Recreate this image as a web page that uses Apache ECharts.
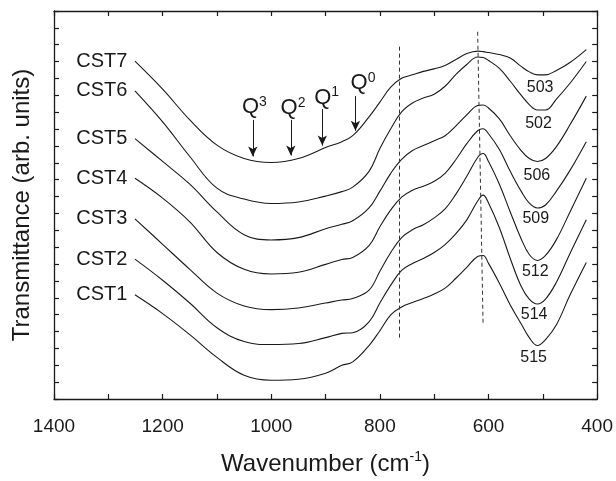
<!DOCTYPE html>
<html lang="en">
<head>
<meta charset="UTF-8">
<title>FTIR CST spectra</title>
<style>html,body{margin:0;padding:0;background:#fff;}</style>
</head>
<body>
<div id="main" style="width:616px;height:481px;"></div>
<script src="https://cdn.jsdelivr.net/npm/echarts@6/dist/echarts.min.js"></script>
<script>
// shared wavenumber grid (cm-1)
var wavenumbers = [1251, 1200, 1150, 1100, 1050, 1000, 950, 900, 870, 850, 820, 800,
  780, 760, 740, 720, 700, 680, 660, 640, 620, 610, 600, 580,
  560, 540, 525, 510, 495, 475, 450, 420];

// transmittance, arb. units (curves already offset as in the figure)
var cst1 = [105.3, 86.3, 65, 42, 24, 19, 20, 26, 34, 37.5, 54, 69, 85, 93, 97.5, 101.5, 106, 112, 122, 133, 144, 145, 137, 117, 95, 76, 62, 54, 60, 75, 105, 138];
var cst2 = [141.3, 120, 97, 72, 58, 55, 56, 62, 66.3, 67, 78, 97, 115, 130, 137, 142, 148, 156, 167, 181, 200, 206, 198, 173, 142, 114, 101, 96, 101, 118, 147, 181];
var cst3 = [182, 156.3, 131, 107, 94, 90.3, 92, 97, 100, 101.5, 110, 129, 148, 163, 171, 176, 183, 192, 207, 225, 244, 248, 240, 217, 189, 162, 146, 140, 145, 161, 189, 223];
var cst4 = [223, 203, 179, 148, 131, 126.3, 128, 136, 141, 143, 155, 174, 191, 204, 211, 215, 220, 228, 242, 258, 271, 273, 268, 252, 230, 210, 198, 193, 196, 210, 231, 260];
var cst5 = [263, 240, 217, 189, 166, 160.7, 163, 172, 176.5, 180, 193, 210, 228, 242, 251, 256, 261, 266, 276, 287, 296.5, 297, 294, 283, 266, 251, 243, 240, 243, 255, 277, 306];
var cst6 = [311.3, 280, 245, 213, 202, 197.5, 199, 205, 209.5, 214, 230, 253, 273, 290, 299, 304, 308, 316, 328, 338, 345.5, 345, 342, 334, 321, 307, 297.5, 292, 292, 303, 319, 341];
var cst7 = [341.3, 313, 282, 256.5, 243, 239, 243, 254, 260, 266, 285, 300, 315, 324, 327.5, 331, 333.5, 337, 343, 349, 351.5, 351, 350, 348, 344.5, 336, 330.5, 327.5, 327.5, 332, 340, 353];

var sampleNames = ['CST1', 'CST2', 'CST3', 'CST4', 'CST5', 'CST6', 'CST7'];
var bandLabels = ['515', '514', '512', '509', '506', '502', '503'];
// where the band labels sit (wavenumber, arb. units)
var bandLabelAt = [[517, 42], [516, 85], [514, 129], [513, 182], [511, 226], [508, 278], [505, 315]];

// Qn arrows
var qSup = ['3', '2', '1', '0'];
var qArrowW = [1034, 964, 906, 845];
var qArrowFrom = [282, 282, 293, 306];
var qArrowTo = [245, 246, 256, 271];
var qLabelAt = [[1031, 295], [960, 294], [898, 304.5], [831, 319]];

// dashed guide lines
var guideLines = [[[764, 356], [764, 61]], [[620, 371], [610, 75]]];

var FONT = 'Liberation Sans, Arial, Helvetica, sans-serif';
var INK = '#1a1a1a';

var myChart = echarts.init(document.getElementById('main'));

var spectra = [cst1, cst2, cst3, cst4, cst5, cst6, cst7];
var series = spectra.map(function (vals, i) {
  return {
    name: sampleNames[i],
    type: 'line',
    smooth: 0.4,
    symbol: 'none',
    silent: true,
    data: wavenumbers.map(function (w, k) { return [w, vals[k]]; }),
    lineStyle: { color: INK, width: 1.1 },
    markPoint: {
      symbol: 'rect',
      symbolSize: 1,
      itemStyle: { color: 'rgba(0,0,0,0)' },
      silent: true,
      data: [
        {
          coord: [wavenumbers[0], vals[0]],
          label: { show: true, position: 'left', distance: 7, formatter: sampleNames[i],
            fontSize: 20, color: INK, fontFamily: FONT }
        },
        {
          coord: bandLabelAt[i],
          label: { show: true, position: 'inside', formatter: bandLabels[i],
            fontSize: 16, color: INK, fontFamily: FONT }
        }
      ]
    }
  };
});

// arrows + Q labels on top curve
series[6].markLine = {
  silent: true,
  symbol: ['none', 'arrow'],
  symbolSize: [7, 10],
  label: { show: false },
  lineStyle: { color: INK, width: 1, type: 'solid' },
  data: qArrowW.map(function (w, i) {
    return [{ coord: [w, qArrowFrom[i]] }, { coord: [w, qArrowTo[i]] }];
  })
};
qSup.forEach(function (s, i) {
  series[6].markPoint.data.push({
    coord: qLabelAt[i],
    label: {
      show: true, position: 'inside',
      formatter: '{q|Q}{s|' + s + '}',
      rich: {
        q: { fontSize: 22, lineHeight: 24, color: INK, fontFamily: FONT },
        s: { fontSize: 14, lineHeight: 15, verticalAlign: 'top', color: INK, fontFamily: FONT }
      }
    }
  });
});

// dashed guides
series[0].markLine = {
  silent: true,
  symbol: ['none', 'none'],
  label: { show: false },
  lineStyle: { color: '#333', width: 1, type: [4, 3] },
  data: guideLines.map(function (l) {
    return [{ coord: l[0] }, { coord: l[1] }];
  })
};

var tickStyle = { color: INK, width: 1.2 };

option = {
  animation: false,
  backgroundColor: '#fff',
  grid: { left: 54, right: 17, top: 11, bottom: 78 },
  xAxis: [
    {
      type: 'value', position: 'bottom', inverse: true,
      min: 400, max: 1400, interval: 200,
      axisLine: { show: true, onZero: false, lineStyle: { color: INK, width: 1.3 } },
      axisTick: { show: true, inside: true, length: 5, lineStyle: tickStyle },
      minorTick: { show: true, splitNumber: 2, length: 5, lineStyle: tickStyle },
      splitLine: { show: false },
      axisLabel: { fontSize: 19, color: INK, margin: 18, fontFamily: FONT,
        formatter: function (v) { return String(v); } },
      name: '{a|Wavenumber (cm}{s|-1}{a|)}',
      nameLocation: 'middle',
      nameGap: 51,
      nameTextStyle: {
        rich: {
          a: { fontSize: 24, lineHeight: 28, color: INK, fontFamily: FONT },
          s: { fontSize: 14, lineHeight: 15, verticalAlign: 'top', color: INK, fontFamily: FONT }
        }
      }
    },
    {
      type: 'value', position: 'top', inverse: true,
      min: 400, max: 1400, interval: 100,
      axisLine: { show: true, onZero: false, lineStyle: { color: INK, width: 1.3 } },
      axisTick: { show: true, inside: true, length: 5, lineStyle: tickStyle },
      axisLabel: { show: false },
      splitLine: { show: false }
    }
  ],
  yAxis: [
    {
      type: 'value', position: 'left',
      min: 0, max: 392, interval: 392 / 23,
      axisLine: { show: true, onZero: false, lineStyle: { color: INK, width: 1.3 } },
      axisTick: { show: true, inside: true, length: 5, lineStyle: tickStyle },
      axisLabel: { show: false },
      splitLine: { show: false },
      name: 'Transmittance (arb. units)',
      nameLocation: 'middle',
      nameGap: 20,
      nameTextStyle: { fontSize: 24, color: INK, fontFamily: FONT }
    },
    {
      type: 'value', position: 'right',
      min: 0, max: 392, interval: 392 / 23,
      axisLine: { show: true, onZero: false, lineStyle: { color: INK, width: 1.3 } },
      axisTick: { show: true, inside: true, length: 5, lineStyle: tickStyle },
      axisLabel: { show: false },
      splitLine: { show: false }
    }
  ],
  series: series
};

myChart.setOption(option);
</script>
</body>
</html>
